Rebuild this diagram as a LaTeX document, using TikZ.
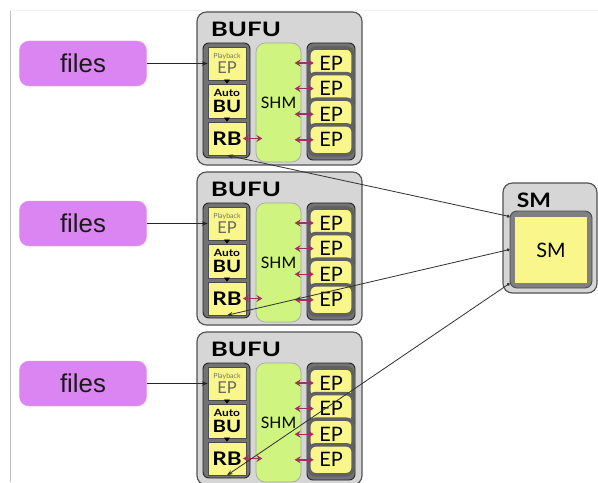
\documentclass[tikz,border=0pt]{standalone}
\usepackage{fontspec}
\setsansfont{Lato}
\newfontfamily\filesfont{Liberation Sans}
\usetikzlibrary{
	arrows.meta,
	positioning
}
\definecolor{boxyellow}{HTML}{F9F78C}
\definecolor{shmgreen}{HTML}{CFF47F}
\definecolor{filepurple}{HTML}{DB85F2}
\definecolor{linkred}{HTML}{9E3064}
\definecolor{framegray}{HTML}{D6D6D6}
\tikzset{
	x=0.03cm,
	y=-0.03cm,
	frame/.style={
		draw=black!68, fill=framegray, line width=1pt, rounded corners=8pt
	},
	column/.style={
		draw=black!85, fill=black!55, line width=0.8pt, rounded corners=5pt
	},
	stage/.style={
		draw=black!70, fill=boxyellow, line width=0.5pt,
		minimum width=1.14cm, inner sep=0pt, align=center, font=\sffamily
	},
	shmbox/.style={
		draw=black!35, fill=shmgreen, line width=0.6pt, rounded corners=8pt,
		minimum width=1.35cm, minimum height=3.57cm,
		font=\sffamily\fontsize{13.5}{13.5}\selectfont
	},
	epcard/.style={
		draw=black!62, fill=boxyellow, line width=3pt, rounded corners=6pt,
		minimum width=1.33cm, minimum height=0.9cm, inner sep=0pt,
		font=\sffamily\fontsize{17}{17}\selectfont
	},
	files/.style={
		fill=filepurple, draw=filepurple!80!white, rounded corners=8pt,
		minimum width=3.81cm, minimum height=1.35cm, text=black!90,
		font=\filesfont\fontsize{22}{22}\selectfont
	},
	title/.style={
		font=\sffamily\bfseries\fontsize{17}{17}\selectfont
	},
	link/.style={
		draw=linkred, line width=1.2pt,
		{Stealth[length=5pt,width=6pt]}-{Stealth[length=5pt,width=6pt]}
	},
	feed/.style={
		draw=black!85, line width=0.7pt, -{Stealth[length=5pt]}
	},
	handoff/.style={
		draw=black, line width=0.6pt, -{Triangle[length=3.5pt,width=5pt]}
	},
	wire/.style={
		draw=black!80, line width=0.7pt,
		{Circle[length=2.5pt]}-{Stealth[length=5pt]}
	}
}

\begin{document}
\begin{tikzpicture}
	\useasboundingbox (0,0) rectangle (598,482);
	\draw[black!25, line width=0.6pt] (10,10) -- (10,482);
	\draw[black!5] (10,10) -- (598,10);

	% the three BUFU blocks
	\foreach \i in {0,1,2}{
		\pgfmathsetmacro{\dy}{160*\i}
		\node [frame, minimum width=4.95cm, minimum height=4.59cm] (bufu\i) at (279.5,88.5+\dy) {};
		\node [title] (bufutitle\i) at (246,29+\dy) {\scalebox{1.3}[1]{BUFU}};

		\node [column, minimum width=1.41cm, minimum height=3.45cm] (left\i) at (226.5,100.5+\dy) {};
		\node [stage, minimum height=0.99cm] (pb\i) at (227,63.5+\dy)
			{\fontsize{6}{6}\selectfont\color{black!55}Playback\\[1pt]\fontsize{14}{14}\selectfont\color{black!60}EP};
		\node [stage, minimum height=1.02cm] (abu\i) at (227,101+\dy)
			{\bfseries\fontsize{8.5}{8.5}\selectfont\scalebox{1.2}[1]{Auto}\\[1pt]\bfseries\fontsize{14.5}{14.5}\selectfont\scalebox{1.2}[1]{BU}};
		\node [stage, minimum height=0.99cm] (rb\i) at (227,138.5+\dy)
			{\bfseries\fontsize{16}{16}\selectfont\scalebox{1.2}[1]{RB}};

		\node [shmbox] (shm\i) at (278.5,102.5+\dy) {SHM};

		\node [column, minimum width=1.44cm, minimum height=3.51cm] (right\i) at (331,101.5+\dy) {};
		\foreach \k in {1,...,4}
			\node [epcard] (ep\i\k) at (331,{63+25.6*(\k-1)+\dy}) {EP};
		\foreach \k in {1,...,4}
			\draw [link] ([xshift=-0.2cm]shm\i.east |- ep\i\k.center) -- ([xshift=0.2cm]ep\i\k.west);

		\draw [link] ([xshift=-0.1cm]rb\i.east) -- ([xshift=0.2cm]shm\i.west |- rb\i.center);
		\draw [handoff] (pb\i.south) -- (abu\i.north);
		\draw [handoff] (abu\i.south) -- (rb\i.north);

		\node [files] (files\i) at (83,63.5+\dy) {files};
		\draw [feed] (files\i) -- (pb\i);
	}

	% SM block
	\node [frame, minimum width=2.82cm, minimum height=3.3cm] (smframe) at (550,238) {};
	\node [title] (smtitle) at (534,200) {\scalebox{1.15}[1]{SM}};
	\node [draw=black!70, fill=black!50, line width=0.8pt, rounded corners=6pt,
		minimum width=2.46cm, minimum height=2.31cm] (smcase) at (551,249.5) {};
	\node [fill=boxyellow, minimum width=2.16cm, minimum height=1.98cm,
		font=\sffamily\fontsize{17}{17}\selectfont] (sm) at (551,250) {SM};

	\draw [wire] ([yshift=-0.18cm]smcase.north west) -- (rb0.south);
	\draw [wire] (smcase.west) -- (rb1.south);
	\draw [wire] ([yshift=0.15cm]smcase.south west) -- (rb2.south);
\end{tikzpicture}
\end{document}
